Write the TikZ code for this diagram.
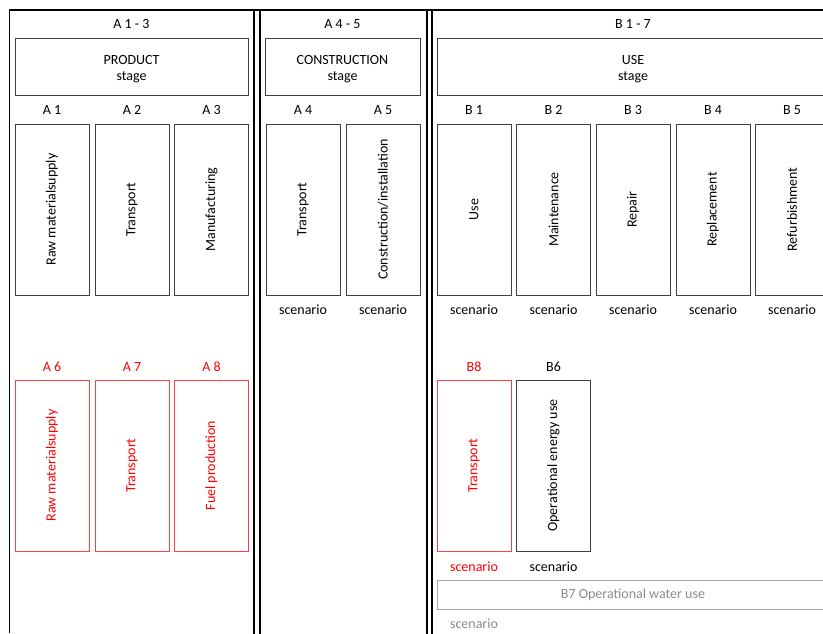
\documentclass[tikz,border=0pt]{standalone}
\usepackage{fontspec}
\setmainfont{Carlito}
\definecolor{boxgray}{HTML}{404040}
\definecolor{boxred}{HTML}{FF4040}
\definecolor{textred}{HTML}{FF0000}
\definecolor{lightbox}{HTML}{A6A6A6}
\definecolor{lighttext}{HTML}{8C8C8C}
\begin{document}
\begin{tikzpicture}[x=1pt,y=-1pt,
  every node/.style={font=\fontsize{14}{16}\selectfont, inner sep=0pt},
  box/.style={draw=boxgray, line width=1pt, rotate=90, minimum width=171pt, minimum height=74pt, text=black},
  redbox/.style={box, draw=boxred, text=textred},
  stagebox/.style={draw=boxgray, line width=1pt, minimum height=57pt},
  stagetext/.style={align=center, text=black},
  graybox/.style={draw=lightbox, line width=1pt, minimum height=29pt, text=lighttext},
  lab/.style={text=black},
  redlab/.style={text=textred},
  graylab/.style={text=lighttext},
  outer/.style={line width=1.1pt},
  sep/.style={line width=2pt}]
\useasboundingbox (0,0) rectangle (823,633);
\begin{scope}
\clip (0,0) rectangle (823,633);
% frame
\draw[outer] (9.5,633) -- (9.5,10) -- (830,10);
\draw[sep] (253.5,10) -- (253.5,640);
\draw[sep] (259.5,10) -- (259.5,640);
\draw[sep] (426.5,10) -- (426.5,640);
\draw[sep] (431.5,10) -- (431.5,640);
% stage headers
\node[lab] (h1) at (131.5,24) {A 1 - 3};
\node[lab] (h2) at (342.5,24) {A 4 - 5};
\node[lab] (h3) at (633,24) {B 1 - 7};
\node[stagebox, minimum width=233pt] (s1) at (131.5,66.5) {};
\node[stagebox, minimum width=155pt] (s2) at (342.5,66.5) {};
\node[stagebox, minimum width=392pt] (s3) at (633,66.5) {};
\node[stagetext] (t1) at ([yshift=-2.5pt]s1.center) {PRODUCT\\stage};
\node[stagetext] (t2) at ([yshift=-2.5pt]s2.center) {CONSTRUCTION\\stage};
\node[stagetext] (t3) at ([yshift=-2.5pt]s3.center) {USE\\stage};
% module labels row 1
\node[lab] (la1) at (52,110) {A 1};
\node[lab] (la2) at (132,110) {A 2};
\node[lab] (la3) at (211.5,110) {A 3};
\node[lab] (la4) at (303,110) {A 4};
\node[lab] (la5) at (383,110) {A 5};
\node[lab] (lb1) at (474,110) {B 1};
\node[lab] (lb2) at (553.5,110) {B 2};
\node[lab] (lb3) at (633,110) {B 3};
\node[lab] (lb4) at (713,110) {B 4};
\node[lab] (lb5) at (792,110) {B 5};
% boxes row 1
\node[box] (a1) at (52,209.5) {Raw materialsupply};
\node[box] (a2) at (132,209.5) {Transport};
\node[box] (a3) at (211.5,209.5) {Manufacturing};
\node[box] (a4) at (303,209.5) {Transport};
\node[box] (a5) at (383,209.5) {Construction/installation};
\node[box] (b1) at (474,209.5) {Use};
\node[box] (b2) at (553.5,209.5) {Maintenance};
\node[box] (b3) at (633,209.5) {Repair};
\node[box] (b4) at (713,209.5) {Replacement};
\node[box] (b5) at (792,209.5) {Refurbishment};
% scenarios row 1
\node[lab] (sa4) at (303,310) {scenario};
\node[lab] (sa5) at (383,310) {scenario};
\node[lab] (sb1) at (474,310) {scenario};
\node[lab] (sb2) at (553.5,310) {scenario};
\node[lab] (sb3) at (633,310) {scenario};
\node[lab] (sb4) at (713,310) {scenario};
\node[lab] (sb5) at (792,310) {scenario};
% row 2 labels
\node[redlab] (la6) at (52,367) {A 6};
\node[redlab] (la7) at (132,367) {A 7};
\node[redlab] (la8) at (211.5,367) {A 8};
\node[redlab] (lb8) at (474,367) {B8};
\node[lab] (lb6) at (553.5,367) {B6};
% row 2 boxes
\node[redbox] (a6) at (52,465.5) {Raw materialsupply};
\node[redbox] (a7) at (132,465.5) {Transport};
\node[redbox] (a8) at (211.5,465.5) {Fuel production};
\node[redbox] (b8) at (474,465.5) {Transport};
\node[box] (b6) at (553.5,465.5) {Operational energy use};
% row 2 scenarios
\node[redlab] (sb8) at (474,567) {scenario};
\node[lab] (sb6) at (553.5,567) {scenario};
% B7
\node[graybox, minimum width=392pt] (b7) at (633,594.5) {B7 Operational water use};
\node[graylab] (sb7) at (474,624) {scenario};
\end{scope}
\end{tikzpicture}
\end{document}
